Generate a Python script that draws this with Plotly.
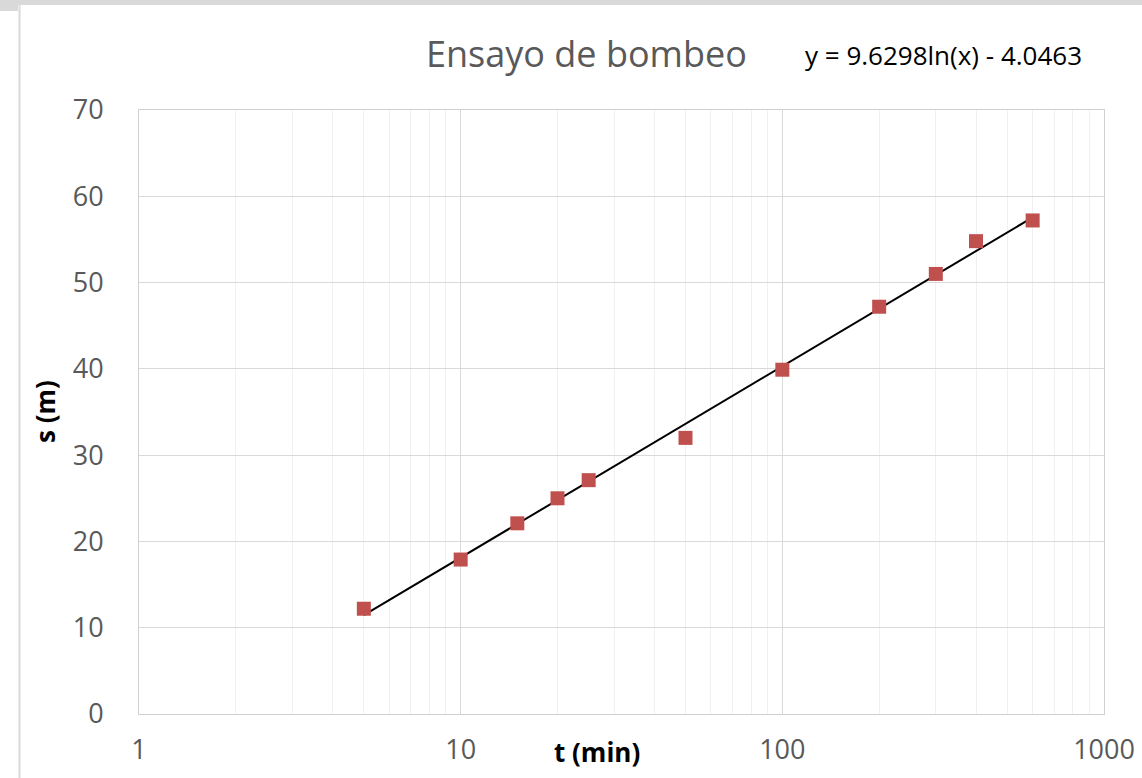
import numpy as np
import plotly.graph_objects as go

# Data
t_min = [5, 10, 15, 20, 25, 50, 100, 200, 300, 400, 600]
s_m = [12.2, 17.9, 22.1, 25.0, 27.1, 32.0, 39.9, 47.2, 51.0, 54.8, 57.2]
trend_a = 9.6298
trend_b = -4.0463
x_ticks = [1, 10, 100, 1000]
y_ticks = [0, 10, 20, 30, 40, 50, 60, 70]
title_text = "Ensayo de bombeo"
eq_text = "y = 9.6298ln(x) - 4.0463"

tx = np.geomspace(min(t_min), max(t_min), 100)
ty = trend_a * np.log(tx) + trend_b

minor_vals = [k * 10 ** e for e in range(0, 3) for k in range(2, 10)]

W, H = 1142, 778
L, R, T, B = 139, 38, 110, 64
PW, PH = W - L - R, H - T - B


def px(x):
    return (x - L) / PW


def py(y):
    return (H - B - y) / PH


fig = go.Figure()
fig.add_trace(go.Scatter(x=list(tx), y=list(ty), mode="lines",
                         line=dict(color="black", width=2), hoverinfo="skip"))
fig.add_trace(go.Scatter(x=t_min, y=s_m, mode="markers",
                         marker=dict(symbol="square", size=14, color="#c0504d",
                                     line=dict(width=0))))

font_family = "Open Sans, Liberation Sans, sans-serif"
fig.update_layout(
    width=W, height=H,
    margin=dict(l=L, r=R, t=T, b=B, autoexpand=False),
    paper_bgcolor="white", plot_bgcolor="white",
    showlegend=False,
    font=dict(family=font_family, color="#595959"),
    xaxis=dict(type="log", range=[0, 3], tickmode="array", tickvals=x_ticks,
               ticktext=[str(v) for v in x_ticks], automargin=False,
               showgrid=True, gridcolor="#d9d9d9", gridwidth=1,
               minor=dict(tickmode="array", tickvals=minor_vals, showgrid=True,
                          gridcolor="#f0f0f0", gridwidth=1, ticklen=0),
               showline=True, linecolor="#d0d0d0", linewidth=1, mirror=True,
               ticks="", tickfont=dict(size=27, color="#595959"),
               ticklabelstandoff=12, zeroline=False),
    yaxis=dict(range=[0, 70], tickmode="array", tickvals=y_ticks, automargin=False,
               showgrid=True, gridcolor="#d9d9d9", gridwidth=1,
               showline=True, linecolor="#d0d0d0", linewidth=1, mirror=True,
               ticks="", tickfont=dict(size=27, color="#595959"),
               ticklabelstandoff=29, zeroline=False),
)

fig.add_annotation(text=title_text, xref="paper", yref="paper", x=px(586), y=py(53),
                   xanchor="center", yanchor="middle", showarrow=False,
                   font=dict(size=36, color="#595959", family=font_family))
fig.add_annotation(text=eq_text, xref="paper", yref="paper", x=px(943), y=py(55),
                   xanchor="center", yanchor="middle", showarrow=False,
                   font=dict(size=26, color="black", family=font_family))
fig.add_annotation(text="<b>t (min)</b>", xref="paper", yref="paper", x=px(597), y=py(752),
                   xanchor="center", yanchor="middle", showarrow=False,
                   font=dict(size=26, color="black", family=font_family))
fig.add_annotation(text="<b>s (m)</b>", xref="paper", yref="paper", x=px(45), y=py(412),
                   xanchor="center", yanchor="middle", showarrow=False, textangle=-90,
                   font=dict(size=26, color="black", family=font_family))

# window frame
fig.add_shape(type="rect", xref="paper", yref="paper", x0=px(0), x1=px(W), y0=py(5), y1=py(0),
              fillcolor="#d9d9d9", line=dict(width=0), layer="above")
fig.add_shape(type="rect", xref="paper", yref="paper", x0=px(0), x1=px(18), y0=py(11), y1=py(0),
              fillcolor="#d9d9d9", line=dict(width=0), layer="above")
fig.add_shape(type="line", xref="paper", yref="paper", x0=px(19.5), x1=px(19.5), y0=py(H), y1=py(5),
              line=dict(color="#d9d9d9", width=2), layer="above")

fig.write_html("out.html", config={"displayModeBar": False},
               post_script=("document.body.style.margin='0px';"
                            "document.body.style.overflow='hidden';"
                            "document.documentElement.style.overflow='hidden';"))
